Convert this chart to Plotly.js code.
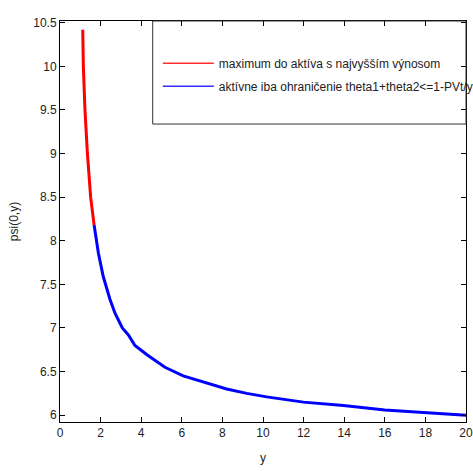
<!DOCTYPE html>
<html>
<head>
<meta charset="utf-8">
<script src="https://cdn.plot.ly/plotly-3.0.1.min.js"></script>
<style>html,body{margin:0;padding:0;background:#fff;}#chart{width:473px;height:471px;}</style>
</head>
<body>
<div id="chart"></div>
<script>
// Data
var redX = [1.12, 1.15, 1.23, 1.35, 1.51, 1.68];
var redY = [10.42, 10.0, 9.5, 9.0, 8.5, 8.18];
var blueX = [1.68, 1.89, 2.13, 2.46, 2.71, 3.07, 3.37, 3.69, 4.3, 4.76, 5.17, 6.07, 7.23, 8.21, 9.2, 10.18, 11.99, 13.96, 16.0, 18.06, 20.0];
var blueY = [8.18, 7.86, 7.59, 7.33, 7.17, 7.0, 6.92, 6.8, 6.69, 6.62, 6.55, 6.45, 6.37, 6.3, 6.25, 6.21, 6.15, 6.11, 6.06, 6.03, 6.0];
var legendNames = ["maximum do aktíva s najvyšším výnosom", "aktívne iba ohraničenie theta1+theta2<=1-PVt/y"];
var xTicks = [0, 2, 4, 6, 8, 10, 12, 14, 16, 18, 20];
var yTicks = [6, 6.5, 7, 7.5, 8, 8.5, 9, 9.5, 10, 10.5];

var font = {family: "Liberation Sans, Arial, sans-serif", size: 12, color: "#222"};

var traces = [
  {x: redX, y: redY, mode: "lines", line: {color: "#ff0000", width: 3}, showlegend: false, hoverinfo: "skip"},
  {x: blueX, y: blueY, mode: "lines", line: {color: "#0000ff", width: 3}, showlegend: false, hoverinfo: "skip"},
  {x: [null], y: [null], mode: "lines", line: {color: "#ff3030", width: 1.5}, name: legendNames[0], legendgroup: "a"},
  {x: [null], y: [null], mode: "lines", line: {color: "#3030ff", width: 1.5}, name: legendNames[1], legendgroup: "b"}
];

var axisCommon = {
  showgrid: false, zeroline: false, showline: true, mirror: "ticks",
  linecolor: "#000", linewidth: 1, ticks: "inside", ticklen: 5, tickcolor: "#000",
  tickfont: font
};

var layout = {
  width: 473, height: 471,
  margin: {l: 60, r: 7, t: 21, b: 49, autoexpand: false},
  paper_bgcolor: "#fff", plot_bgcolor: "#fff",
  font: font,
  xaxis: Object.assign({}, axisCommon, {
    range: [0, 20], tickvals: xTicks, ticktext: xTicks.map(String),
    title: {text: "y", font: font, standoff: 14}
  }),
  yaxis: Object.assign({}, axisCommon, {
    range: [5.922, 10.52], tickvals: yTicks, ticktext: yTicks.map(String),
    title: {text: "psi(0,y)", font: font, standoff: 12}
  }),
  showlegend: true,
  legend: {
    x: 0.241, y: 0.931, xanchor: "left", yanchor: "top",
    bgcolor: "rgba(0,0,0,0)", borderwidth: 0,
    font: {family: "Liberation Sans, Arial, sans-serif", size: 12, color: "#222"},
    itemwidth: 51, traceorder: "grouped", tracegroupgap: 4
  },
  shapes: [{
    type: "rect", xref: "paper", yref: "paper",
    x0: 0.2283, x1: 1.0, y0: 0.743, y1: 1.0,
    line: {color: "#333", width: 1}, fillcolor: "rgba(0,0,0,0)"
  }]
};

Plotly.newPlot("chart", traces, layout, {staticPlot: true, displayModeBar: false});
</script>
</body>
</html>
